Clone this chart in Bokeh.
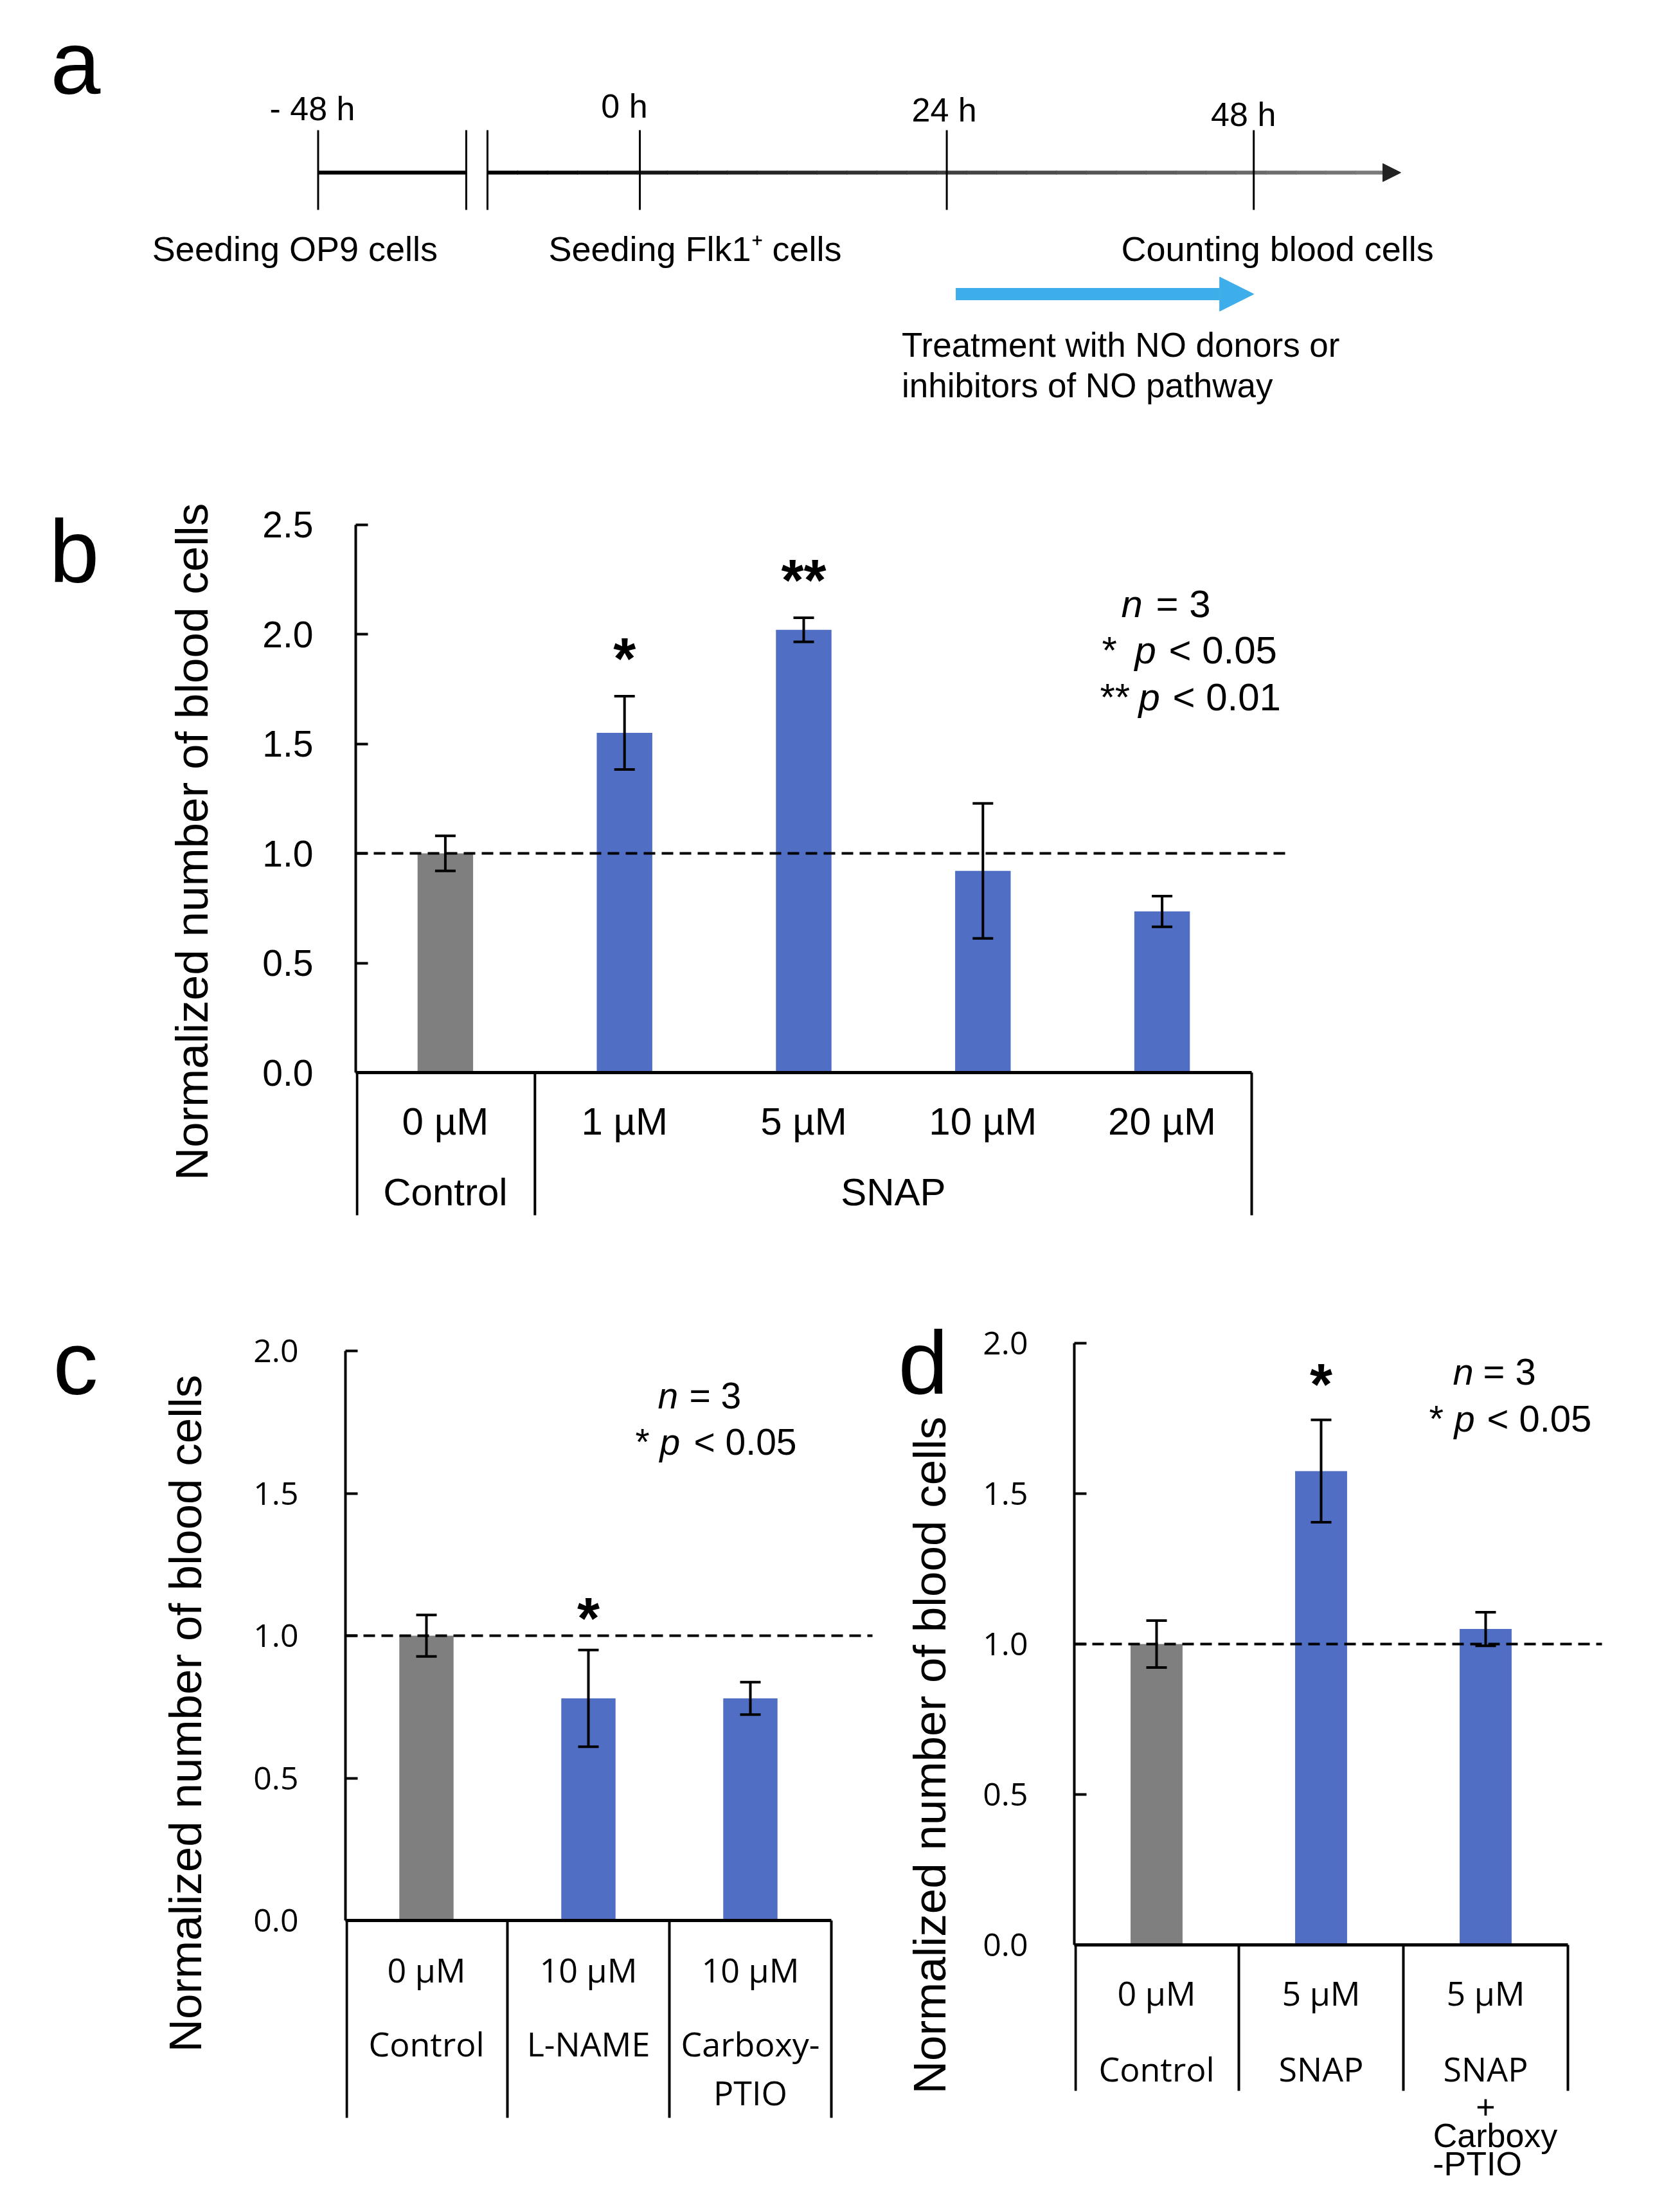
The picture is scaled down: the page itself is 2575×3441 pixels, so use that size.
import math
from bokeh.plotting import figure
from bokeh.models import (Range1d, FixedTicker, PrintfTickFormatter, Whisker,
                          TeeHead, ColumnDataSource, Arrow, NormalHead)
from bokeh.layouts import column, row
from bokeh.embed import file_html
from bokeh.resources import INLINE
from bokeh.core.properties import value

SANS = "Liberation Sans"
OPEN = "Open Sans"
GRAY = "#7f7f7f"
BLUE = "#4f6ec4"
SKY = "#3daee9"
YTITLE = "Normalized number of blood cells"

# ===================== data =====================
# panel a : experimental timeline
time_points = [-48, 0, 24, 48]
time_labels = ["- 48 h", "0 h", "24 h", "48 h"]
event_times = [-48, 0, 48]
event_labels = ["Seeding OP9 cells", "Seeding Flk1\u207a cells", "Counting blood cells"]
treatment_window = [24, 48]
treatment_lines = ["Treatment with NO donors or", "inhibitors of NO pathway"]
timeline_end = 59.5

# panel b : SNAP dose response
b_doses = ["0 \u00b5M", "1 \u00b5M", "5 \u00b5M", "10 \u00b5M", "20 \u00b5M"]
b_groups = ["Control", "SNAP", "SNAP", "SNAP", "SNAP"]
b_values = [1.00, 1.55, 2.02, 0.92, 0.735]
b_errors = [0.08, 0.167, 0.055, 0.308, 0.07]
b_marks = ["", "*", "**", "", ""]
b_ticks = [0.0, 0.5, 1.0, 1.5, 2.0, 2.5]

# panel c : NO pathway inhibitors
c_doses = ["0 \u00b5M", "10 \u00b5M", "10 \u00b5M"]
c_names = [["Control"], ["L-NAME"], ["Carboxy-", "PTIO"]]
c_values = [1.00, 0.78, 0.78]
c_errors = [0.073, 0.17, 0.057]
c_marks = ["", "*", ""]
c_ticks = [0.0, 0.5, 1.0, 1.5, 2.0]

# panel d : SNAP with / without Carboxy-PTIO
d_doses = ["0 \u00b5M", "5 \u00b5M", "5 \u00b5M"]
d_names = ["Control", "SNAP", "SNAP"]
d_extra = [[], [], ["+", "Carboxy", "-PTIO"]]
d_values = [1.00, 1.575, 1.05]
d_errors = [0.078, 0.17, 0.056]
d_marks = ["", "*", ""]
d_ticks = [0.0, 0.5, 1.0, 1.5, 2.0]

control_level = 1.0
stats_n = "= 3"
stats_p = ["< 0.05", "< 0.01"]

AXIS_BORDER = 180   # room kept left of each plot frame for the tick labels


# ===================== helpers =====================
def bare_figure(width, height, xr, yr):
    p = figure(width=width, height=height, x_range=xr, y_range=yr,
               x_axis_type=None, y_axis_type=None, tools="", toolbar_location=None,
               output_backend="svg", title=None, min_border_left=0, min_border_right=0,
               min_border_top=0, min_border_bottom=0)
    p.outline_line_color = None
    p.background_fill_color = "white"
    p.border_fill_color = "white"
    return p


class Geo:
    """Maps reference-picture pixels to data units of one panel."""
    def __init__(self, left, top, width, height, axis_x, ux, zero_y, uy):
        self.left, self.top, self.width, self.height = left, top, width, height
        self.axis_x, self.ux, self.zero_y, self.uy = axis_x, ux, zero_y, uy

    def X(self, rx):
        return (rx - self.axis_x) / self.ux

    def Y(self, ry):
        return (self.zero_y - ry) / self.uy

    def figure(self):
        p = figure(width=self.width, height=self.height,
                   x_range=Range1d(0, self.X(self.left + self.width)),
                   y_range=Range1d(self.Y(self.top + self.height), self.Y(self.top)),
                   x_axis_type=None, tools="", toolbar_location=None,
                   output_backend="svg", title=None,
                   min_border_left=self.axis_x - self.left, min_border_right=0,
                   min_border_top=0, min_border_bottom=0)
        p.outline_line_color = None
        p.ygrid.grid_line_color = None
        p.background_fill_color = "white"
        p.border_fill_color = "white"
        return p


def style_yaxis(p, ticks, font, size, standoff):
    ax = p.yaxis[0]
    ax.ticker = FixedTicker(ticks=ticks, minor_ticks=[])
    ax.bounds = (min(ticks), max(ticks))
    ax.formatter = PrintfTickFormatter(format="%.1f")
    ax.major_tick_in = 19
    ax.major_tick_out = 0
    ax.minor_tick_line_color = None
    ax.axis_line_width = 4
    ax.major_tick_line_width = 4
    ax.axis_line_color = "black"
    ax.major_tick_line_color = "black"
    ax.major_label_text_font = font
    ax.major_label_text_font_size = size
    ax.major_label_text_color = "black"
    ax.major_label_standoff = standoff


def bars_and_errors(p, values, errors, colors, width, marks, star_size, star_off):
    xs = [i + 0.5 for i in range(len(values))]
    p.vbar(x=xs, top=values, bottom=0, width=width, fill_color=colors, line_color=None)
    src = ColumnDataSource(dict(base=xs,
                                upper=[v + e for v, e in zip(values, errors)],
                                lower=[v - e for v, e in zip(values, errors)]))
    w = Whisker(source=src, base="base", upper="upper", lower="lower",
                dimension="height", line_width=4, line_color="black", level="annotation",
                upper_head=TeeHead(size=32, line_width=4, line_color="black"),
                lower_head=TeeHead(size=32, line_width=4, line_color="black"))
    p.add_layout(w)
    sx = [x for x, m in zip(xs, marks) if m]
    sy = [v + e for v, e, m in zip(values, errors, marks) if m]
    st = [m for m in marks if m]
    p.text(x=sx, y=sy, text=st, text_font=value(SANS), text_font_size=star_size,
           text_font_style="bold", text_align="center", text_baseline="alphabetic",
           text_color="black", y_offset=star_off)
    return xs


def frame_lines(p, g, n, seps, table_bottom, dash_end):
    # control reference level
    p.segment(x0=[0], y0=[control_level], x1=[dash_end], y1=[control_level],
              line_color="black", line_width=4, line_dash="18 10")
    # category axis line and table separators
    p.segment(x0=[0], y0=[0], x1=[n], y1=[0], line_color="black", line_width=5)
    xs = [s if s > 0 else 2.0 / g.ux for s in seps]
    p.segment(x0=xs, y0=[0] * len(xs), x1=xs, y1=[table_bottom] * len(xs),
              line_color="black", line_width=4)


def txt(p, x, y, text, font, size, align="left", style="normal", x_offset=0, angle=0.0):
    p.text(x=x, y=y, text=text, text_font=value(font), text_font_size=size,
           text_align=align, text_baseline="alphabetic", text_color="black",
           text_font_style=style, x_offset=x_offset, angle=angle)


def stats_block(p, g, n_left, n_eq, n_base, lines, size):
    txt(p, [g.X(n_left)], [g.Y(n_base)], ["n"], SANS, size, style="italic")
    txt(p, [g.X(n_eq)], [g.Y(n_base)], [stats_n], SANS, size)
    for star, s_left, p_left, r_left, base, rest in lines:
        txt(p, [g.X(s_left)], [g.Y(base)], [star], SANS, size)
        txt(p, [g.X(p_left)], [g.Y(base)], ["p"], SANS, size, style="italic")
        txt(p, [g.X(r_left)], [g.Y(base)], [rest], SANS, size)


def side_strip(left, top, width, height, letter, l_left, l_base, t_base_x, t_center_y):
    """Narrow figure left of a panel holding its letter and its vertical axis title."""
    s = bare_figure(width, height, Range1d(left, left + width), Range1d(-(top + height), -top))
    txt(s, [l_left], [-l_base], [letter], SANS, "140px")
    txt(s, [t_base_x], [-t_center_y], [YTITLE], SANS, "71px", align="center",
        angle=math.pi / 2)
    return s


# ===================== panel a =====================
A_W, A_H = 2559, 692
A_PX_PER_H = 19.9
A_ZERO_REF = 1003          # reference x of 0 h
NEG_SCALE = 0.524          # compressed part of the time axis (before the break)


def tpos(h):
    return h if h >= 0 else h * NEG_SCALE


def XA(rx):
    return (rx - A_ZERO_REF) / A_PX_PER_H


def YA(ry):
    return ry - 8


pa = bare_figure(A_W, A_H, Range1d(XA(8), XA(8 + A_W)), Range1d(A_H, 0))

t_first = tpos(time_points[0])
brk1 = t_first + 11.58
brk2 = brk1 + 1.66
line_y = YA(276)
pa.segment(x0=[t_first], y0=[line_y], x1=[brk1], y1=[line_y], line_color="black", line_width=6)
n_seg = 30
head_base = timeline_end - 1.2
gx0, gx1, gcol = [], [], []
for i in range(n_seg):
    a0 = brk2 + (head_base - brk2) * i / n_seg
    a1 = brk2 + (head_base - brk2) * (i + 1) / n_seg + 0.05
    shade = int(0x7a * i / (n_seg - 1))
    gx0.append(a0)
    gx1.append(min(a1, head_base))
    gcol.append("#%02x%02x%02x" % (shade, shade, shade))
pa.segment(x0=gx0, y0=[line_y] * n_seg, x1=gx1, y1=[line_y] * n_seg, line_color=gcol,
           line_width=6)
pa.add_layout(Arrow(x_start=timeline_end - 1.5, y_start=line_y, x_end=timeline_end, y_end=line_y,
                    line_alpha=0, line_width=1,
                    end=NormalHead(size=28, fill_color="#222222", line_color="#222222",
                                   line_width=1)))
tick_x = [tpos(t) for t in time_points] + [brk1, brk2]
pa.segment(x0=tick_x, y0=[YA(210)] * len(tick_x), x1=tick_x, y1=[YA(334)] * len(tick_x),
           line_color="black", line_width=3)
label_base = [YA(176), YA(172), YA(178), YA(185)]
txt(pa, [tpos(t) for t in time_points], label_base, time_labels, SANS,
    "52px", align="center", x_offset=[-9, -24, -4, -16])
txt(pa, [tpos(t) for t in event_times], [YA(394)] * len(event_times), event_labels, SANS,
    "54px", align="center", x_offset=[-36, 86, 37])
pa.add_layout(Arrow(x_start=tpos(treatment_window[0]) + 0.7, y_start=YA(465),
                    x_end=tpos(treatment_window[1]), y_end=YA(465),
                    line_color=SKY, line_width=19,
                    end=NormalHead(size=53, fill_color=SKY, line_color=SKY, line_width=1)))
txt(pa, [tpos(treatment_window[0])] * 2, [YA(544), YA(607)], treatment_lines, SANS, "53px",
    x_offset=-70)
txt(pa, [XA(86)], [YA(105)], ["a"], SANS, "140px")

# ===================== panel b =====================
B_TOP, B_H = 700, 1260
B_AXIS = 561
gb = Geo(left=B_AXIS - AXIS_BORDER, top=B_TOP, width=2567 - (B_AXIS - AXIS_BORDER), height=B_H,
         axis_x=B_AXIS, ux=278.8, zero_y=1676, uy=341)
sb = side_strip(8, B_TOP, gb.left - 8, B_H, "b", 84, 865, 306, 1317)
pb = gb.figure()
style_yaxis(pb, b_ticks, SANS, "57px", 66)
b_colors = [GRAY if g == "Control" else BLUE for g in b_groups]
b_x = bars_and_errors(pb, b_values, b_errors, b_colors, 0.31, b_marks, "90px", -58)
runs = []
for i, g in enumerate(b_groups):
    if runs and runs[-1][0] == g:
        runs[-1][2] = i + 1
    else:
        runs.append([g, i, i + 1])
b_seps = [0] + [r[2] for r in runs]
frame_lines(pb, gb, len(b_values), b_seps, gb.Y(1898), gb.X(2010))
txt(pb, b_x, [gb.Y(1752)] * len(b_x), b_doses, SANS, "60px", align="center")
txt(pb, [(r[1] + r[2]) / 2 for r in runs], [gb.Y(1862)] * len(runs), [r[0] for r in runs],
    SANS, "60px", align="center")
stats_block(pb, gb, 1752, 1806, 947,
            [("*", 1722, 1773, 1826, 1019, stats_p[0]),
             ("**", 1719, 1779, 1832, 1092, stats_p[1])], "60px")

# ===================== panel c =====================
CD_TOP, CD_H = 1960, 1473
C_AXIS = 545
gc_ = Geo(left=C_AXIS - AXIS_BORDER, top=CD_TOP, width=1395 - (C_AXIS - AXIS_BORDER), height=CD_H,
          axis_x=C_AXIS, ux=252, zero_y=2995, uy=443)
sc = side_strip(8, CD_TOP, gc_.left - 8, CD_H, "c", 90, 2128, 296, 2673)
pc = gc_.figure()
style_yaxis(pc, c_ticks, OPEN, "50px", 73)
c_colors = [GRAY] + [BLUE] * (len(c_values) - 1)
c_x = bars_and_errors(pc, c_values, c_errors, c_colors, 0.335, c_marks, "90px", -49)
frame_lines(pc, gc_, len(c_values), list(range(len(c_values) + 1)), gc_.Y(3302), gc_.X(1365))
txt(pc, c_x, [gc_.Y(3071)] * len(c_x), c_doses, OPEN, "52px", align="center")
row_bases = [3186, 3262]
for k in range(2):
    xs = [x for x, nm in zip(c_x, c_names) if len(nm) > k]
    ts = [nm[k] for nm in c_names if len(nm) > k]
    txt(pc, xs, [gc_.Y(row_bases[k])] * len(xs), ts, OPEN, "52px", align="center")
stats_block(pc, gc_, 1031, 1080, 2178, [("*", 996, 1034, 1087, 2250, stats_p[0])], "57px")

# ===================== panel d =====================
D_AXIS = 1679
gd = Geo(left=D_AXIS - AXIS_BORDER, top=CD_TOP, width=2567 - (D_AXIS - AXIS_BORDER), height=CD_H,
         axis_x=D_AXIS, ux=256, zero_y=3033, uy=468)
sd = side_strip(1395, CD_TOP, gd.left - 1395, CD_H, "d", 1405, 2127, 1454, 2738)
pd_ = gd.figure()
style_yaxis(pd_, d_ticks, OPEN, "50px", 72)
d_colors = [GRAY] + [BLUE] * (len(d_values) - 1)
d_x = bars_and_errors(pd_, d_values, d_errors, d_colors, 0.316, d_marks, "90px", -55)
frame_lines(pd_, gd, len(d_values), list(range(len(d_values) + 1)), gd.Y(3260), gd.X(2500))
txt(pd_, d_x, [gd.Y(3107)] * len(d_x), d_doses, OPEN, "52px", align="center")
txt(pd_, d_x, [gd.Y(3225)] * len(d_x), d_names, OPEN, "52px", align="center")
extra_bases = [3285, 3329, 3373]
extra_off = [0, 15, -13]
for k in range(3):
    xs = [x for x, ex in zip(d_x, d_extra) if len(ex) > k]
    ts = [ex[k] for ex in d_extra if len(ex) > k]
    txt(pd_, xs, [gd.Y(extra_bases[k])] * len(xs), ts, SANS, "52px", align="center",
        x_offset=extra_off[k])
stats_block(pd_, gd, 2268, 2315, 2141, [("*", 2231, 2270, 2321, 2214, stats_p[0])], "58px")

layout = column(row(pa), row(sb, pb), row(sc, pc, sd, pd_))
open("out.html", "w").write(file_html(layout, INLINE))
